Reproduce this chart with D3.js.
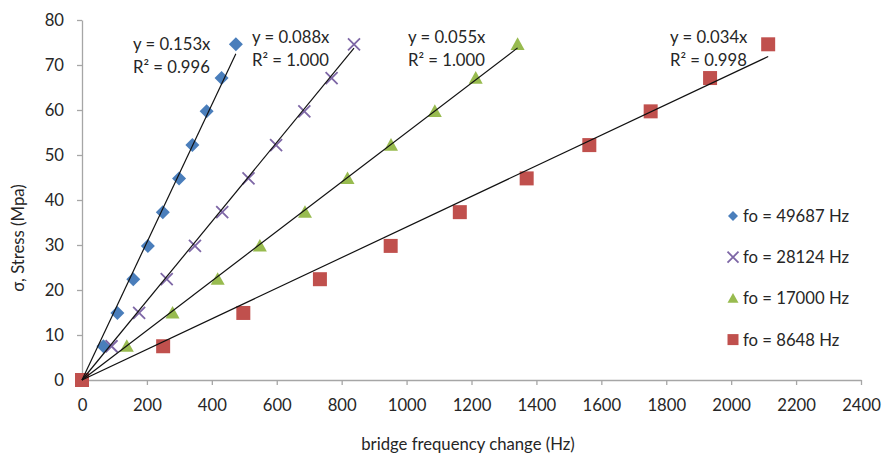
<!DOCTYPE html>
<html><head><meta charset="utf-8">
<script src="https://cdn.jsdelivr.net/npm/d3@7"></script>
<style>
html,body{margin:0;padding:0;background:#fff;}
svg{display:block;}
text{font-family:"Lato","Open Sans",sans-serif;fill:#262626;}
</style></head>
<body>
<svg id="chart" width="883" height="456"></svg>
<script>
// ---------- data ----------
const stress = [0, 7.5, 14.9, 22.4, 29.8, 37.3, 44.8, 52.2, 59.7, 67.1, 74.6];
const x49687 = [0, 66, 109, 158, 203, 249, 299, 340, 384, 430, 474];
const x28124 = [0, 91, 176, 261, 348, 432, 513, 598, 685, 769, 838];
const x17000 = [0, 138, 279, 418, 548, 687, 818, 952, 1087, 1213, 1342];
const x8648  = [0, 250, 497, 733, 951, 1164, 1370, 1563, 1752, 1935, 2114];
const seriesNames = ["fo = 49687 Hz", "fo = 28124 Hz", "fo = 17000 Hz", "fo = 8648 Hz"];
const slopes = [0.153, 0.088, 0.055, 0.034];
const eqLabels = ["y = 0.153x", "y = 0.088x", "y = 0.055x", "y = 0.034x"];
const r2Labels = ["R² = 0.996", "R² = 1.000", "R² = 1.000", "R² = 0.998"];
const xTicks = [0,200,400,600,800,1000,1200,1400,1600,1800,2000,2200,2400];
const yTicks = [0,10,20,30,40,50,60,70,80];
const xTitle = "bridge frequency change (Hz)";
const yTitle = "σ, Stress (Mpa)";

// ---------- styling ----------
const colors = ["#4A7EBB", "#7E67A6", "#98BB4F", "#C0504D"];
const shapes = ["diamond", "x", "triangle", "square"];
const xSeries = [x49687, x28124, x17000, x8648];
const fs = "16.7px";
// label anchor (left x, baseline of first line) in pixels
const labelPos = [[133, 50], [252, 43], [408, 43], [670, 43]];

const svg = d3.select("#chart");
const x = d3.scaleLinear().domain([0, 2400]).range([82, 861]);
const y = d3.scaleLinear().domain([0, 80]).range([380, 20]);

// axes
const axisColor = "#a6a6a6";
const gx = svg.append("g").attr("transform", `translate(0,${y(0)})`)
  .call(d3.axisBottom(x).tickValues(xTicks).tickFormat(d3.format("d")).tickSize(5).tickPadding(14).tickSizeOuter(0));
const gy = svg.append("g").attr("transform", `translate(${x(0)},0)`)
  .call(d3.axisLeft(y).tickValues(yTicks).tickFormat(d3.format("d")).tickSize(5).tickPadding(13).tickSizeOuter(0));
[gx, gy].forEach(g => {
  g.select(".domain").attr("stroke", axisColor).attr("stroke-width", 1.3);
  g.selectAll(".tick line").attr("stroke", axisColor).attr("stroke-width", 1.3);
  g.selectAll(".tick text").style("font-size", fs).style("font-family", '"Lato","Open Sans",sans-serif').attr("fill", "#262626");
});

// axis titles
svg.append("text").attr("x", 468).attr("y", 450).attr("text-anchor", "middle")
  .style("font-size", fs).text(xTitle);
svg.append("text").attr("transform", `translate(24,238) rotate(-90)`).attr("text-anchor", "middle")
  .style("font-size", fs).text(yTitle);

// marker path generator
function markerPath(shape, s) {
  const h = s / 2;
  switch (shape) {
    case "diamond": return `M0,${-h}L${h},0L0,${h}L${-h},0Z`;
    case "square": return `M${-h},${-h}H${h}V${h}H${-h}Z`;
    case "triangle": return `M0,${-h}L${h},${h*0.8}L${-h},${h*0.8}Z`;
    case "x": return `M${-h},${-h}L${h},${h}M${h},${-h}L${-h},${h}`;
  }
}
function drawMarker(g, shape, color, s) {
  const p = g.append("path").attr("d", markerPath(shape, s));
  if (shape === "x") p.attr("fill", "none").attr("stroke", color).attr("stroke-width", 1.8);
  else p.attr("fill", color);
}

// points
xSeries.forEach((xs, i) => {
  const g = svg.append("g");
  xs.forEach((xv, j) => {
    const m = g.append("g").attr("transform", `translate(${x(xv)},${y(stress[j])})`);
    drawMarker(m, shapes[i], colors[i], shapes[i] === "x" ? 12 : 14);
  });
});

// trendlines (through origin, over the data range)
const line = d3.line().x(d => x(d[0])).y(d => y(d[1]));
xSeries.forEach((xs, i) => {
  const xmax = d3.max(xs);
  svg.append("path").attr("d", line([[0, 0], [xmax, slopes[i] * xmax]]))
    .attr("fill", "none").attr("stroke", "#111").attr("stroke-width", 1.2);
});

// equation labels
labelPos.forEach((p, i) => {
  const t = svg.append("text").attr("x", p[0]).attr("y", p[1]).style("font-size", fs);
  t.append("tspan").attr("x", p[0]).text(eqLabels[i]);
  t.append("tspan").attr("x", p[0]).attr("dy", 22.5).text(r2Labels[i]);
});

// legend
const lg = svg.append("g");
seriesNames.forEach((n, i) => {
  const cy = 216 + i * 41.2;
  const m = lg.append("g").attr("transform", `translate(733,${cy})`);
  drawMarker(m, shapes[i], colors[i], shapes[i] === "diamond" ? 10 : 11);
  lg.append("text").attr("x", 743).attr("y", cy + 6).style("font-size", fs).text(n);
});
</script>
</body></html>
